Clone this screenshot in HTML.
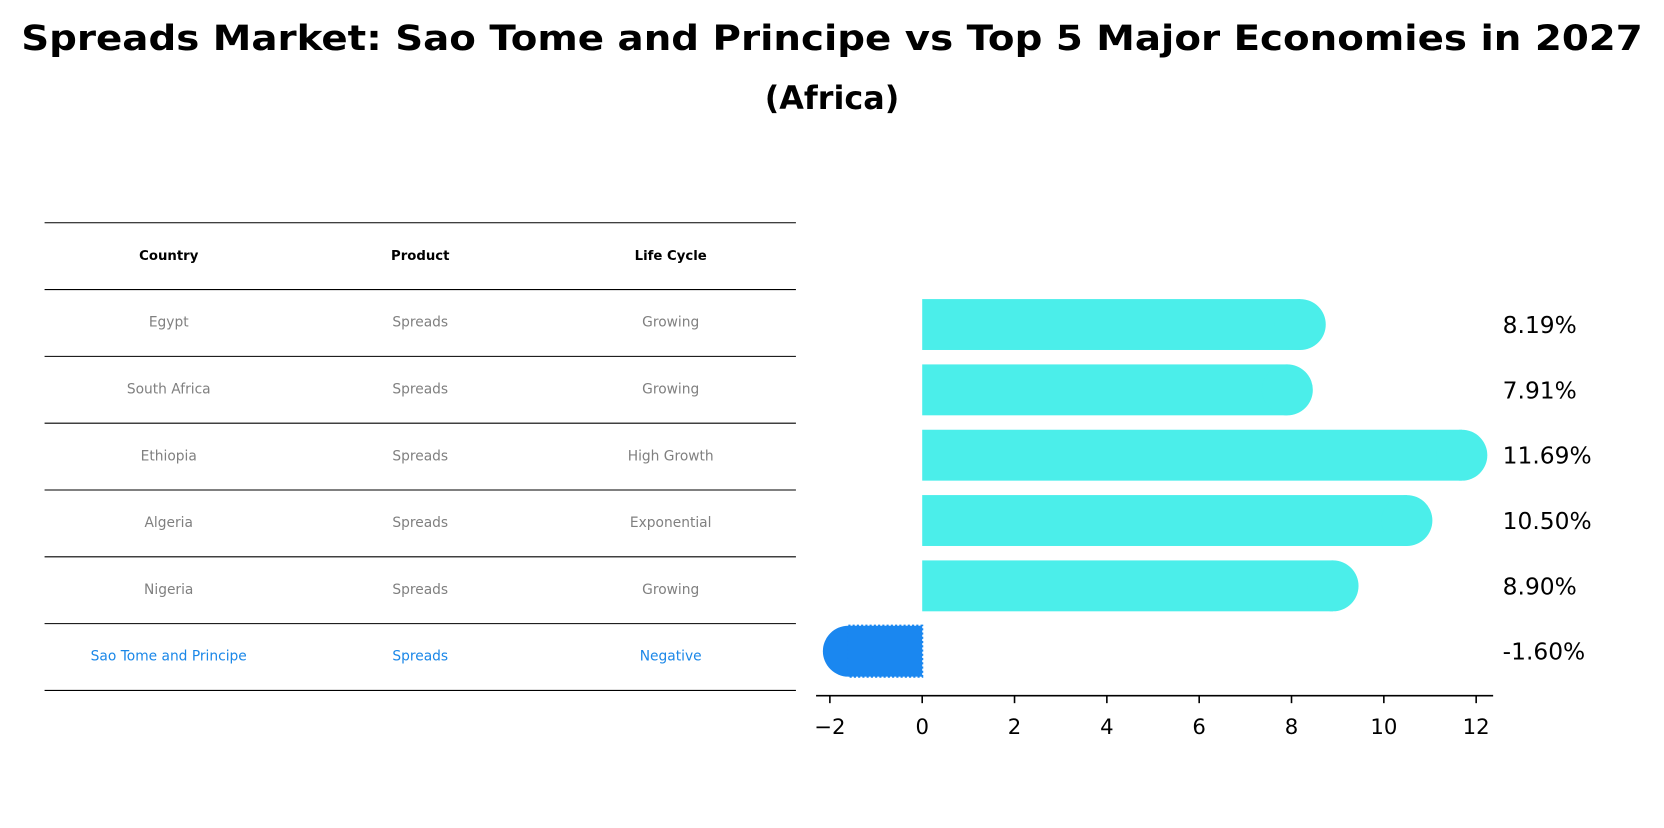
<!DOCTYPE html>
<html><head><meta charset="utf-8"><style>
body{margin:0;background:#fff;font-family:"Liberation Sans","DejaVu Sans",sans-serif}
</style></head><body>
<svg width="1664" height="823" viewBox="0 0 1568 776" preserveAspectRatio="none" xmlns="http://www.w3.org/2000/svg" font-family="DejaVu Sans, Liberation Sans, sans-serif">
<text x="784" y="47" text-anchor="middle" font-size="33" font-weight="bold" textLength="1528" lengthAdjust="spacingAndGlyphs">Spreads Market: Sao Tome and Principe vs Top 5 Major Economies in 2027</text>
<text x="784" y="103" text-anchor="middle" font-size="30" font-weight="bold">(Africa)</text>
<g id="table"></g>
<g id="chart"></g>
</svg>
<script>
const countries=["Egypt","South Africa","Ethiopia","Algeria","Nigeria","Sao Tome and Principe"];
const products=["Spreads","Spreads","Spreads","Spreads","Spreads","Spreads"];
const lifeCycles=["Growing","Growing","High Growth","Exponential","Growing","Negative"];
const values=[8.19,7.91,11.69,10.50,8.90,-1.60];
const ticks=[-2,0,2,4,6,8,10,12];
const NS="http://www.w3.org/2000/svg";
function mk(t,a,p){const e=document.createElementNS(NS,t);for(const k in a)e.setAttribute(k,a[k]);p.appendChild(e);return e;}
const tbl=document.getElementById('table');
const lineYs=[210,273,336,399,462,525,588,651];
lineYs.forEach(y=>{const l=mk('line',{x1:42,x2:750,y1:y,y2:y,stroke:'#000','stroke-width':1},tbl);

});
const colX=[159,396,632];
["Country","Product","Life Cycle"].forEach((h,i)=>{const t=mk('text',{x:colX[i],y:245,'text-anchor':'middle','font-size':12.5,'font-weight':'bold'},tbl);t.textContent=h;

});
countries.forEach((c,r)=>{const y=304+r*63;const col=r===countries.length-1?'#1a87e8':'#808080';
[c,products[r],lifeCycles[r]].forEach((v,i)=>{const t=mk('text',{x:colX[i],y:y+4,'text-anchor':'middle','font-size':13,fill:col},tbl);t.textContent=v;

});});
const ch=document.getElementById('chart');
const x0=869,sc=43.5;const xs=v=>x0+v*sc;
const bh=48,r=24;
values.forEach((v,i)=>{const cy=306+i*61.6;const neg=v<0;const col=neg?'#1a87f0':'#4beeea';
const xe=xs(v);const g=mk('g',{},ch);


mk('rect',{x:Math.min(x0,xe),y:cy-bh/2,width:Math.abs(xe-x0),height:bh,fill:col},g);
mk('circle',{cx:xe,cy:cy,r:r,fill:col},g);
if(neg){mk('rect',{x:xe,y:cy-bh/2,width:x0-xe,height:bh,fill:'none',stroke:'#1a87f0','stroke-dasharray':'2 2','stroke-width':2},g);}
const t=mk('text',{x:1416,y:cy+8,'font-size':22},ch);t.textContent=v.toFixed(2)+'%';

});
const ax=mk('line',{x1:769,x2:1407,y1:656,y2:656,stroke:'#000','stroke-width':1.5},ch);


ticks.forEach(v=>{mk('line',{x1:xs(v),x2:xs(v),y1:656,y2:663,stroke:'#000','stroke-width':1.5},ch);
const t=mk('text',{x:xs(v),y:692,'text-anchor':'middle','font-size':20},ch);t.textContent=v<0?'\u2212'+(-v):String(v);

});
</script>
</body></html>
